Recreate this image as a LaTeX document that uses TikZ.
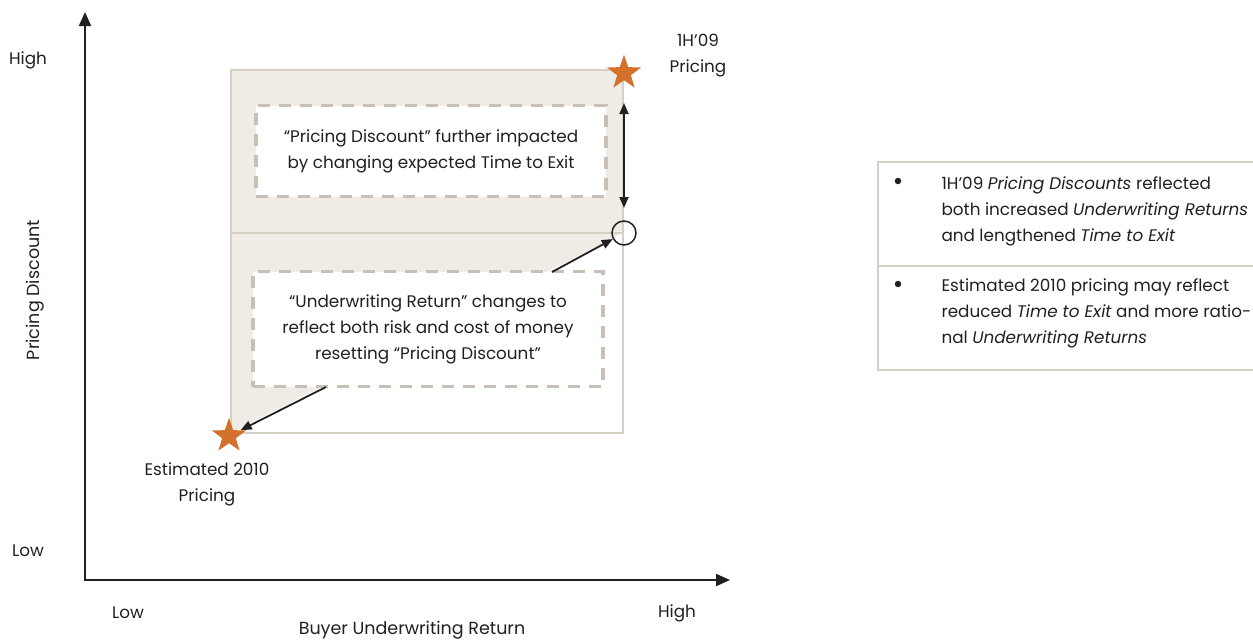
\documentclass[tikz,border=0pt]{standalone}
\usepackage{fontspec}
\setmainfont{Poppins}
\usetikzlibrary{arrows.meta,shapes.geometric}

\definecolor{beige}{HTML}{EFECE6}
\definecolor{frameline}{HTML}{D6CFC3}
\definecolor{dashline}{HTML}{C8C0B7}
\definecolor{starorange}{HTML}{D2702C}
\definecolor{ink}{HTML}{231F20}

\begin{document}
\begin{tikzpicture}[x=1pt,y=-1pt,text=ink,font=\fontsize{16.8}{26}\selectfont]
  \useasboundingbox (0,0) rectangle (1253,640);

  \tikzset{axis arc/.style={{Triangle[length=14,width=12]}-{Triangle[length=14,width=12]}, ink, line width=2},
           thin arc/.style={-{Triangle[length=11,width=9]}, ink, line width=1.8},
           dashbox/.style={draw=dashline, fill=white, line width=3.5, dash pattern=on 12pt off 9pt, align=center, inner sep=0pt},
           starnode/.style={star, star points=5, star point ratio=2.5, fill=starorange, minimum size=36, inner sep=0pt},
           dot/.style={circle, fill=ink, minimum size=6.5, inner sep=0pt}}

  % shaded region
  \fill[beige] (231,70) rectangle (623,233);
  \fill[beige] (231,233) -- (623,233) -- (231,433) -- cycle;
  \draw[frameline, line width=1.5] (231,70) rectangle (623,433);
  \draw[frameline, line width=1.5] (231,233) -- (623,233);

  % axes
  \coordinate (ytip) at (85,12);
  \coordinate (origin) at (85,580);
  \coordinate (xtip) at (730,580);
  \draw[axis arc] (ytip) -- (origin) -- (xtip);

  \node (yhigh) at (28,60) {High};
  \node (ylow) at (28,551) {Low};
  \node (xlow) at (128,613) {Low};
  \node (xhigh) at (677,613) {High};
  \node[rotate=90, font=\fontsize{17.5}{20}\selectfont] (ytitle) at (35,290) {Pricing Discount};
  \node[font=\fontsize{17.5}{20}\selectfont] (xtitle) at (412,630) {Buyer Underwriting Return};

  % boxes
  \node[dashbox, minimum width=350, minimum height=91] (discbox) at (431,151)
    {“Pricing Discount” further impacted\\by changing expected Time to Exit};
  \node[dashbox, minimum width=350, minimum height=115] (retbox) at (428,329)
    {“Underwriting Return” changes to\\reflect both risk and cost of money\\resetting “Pricing Discount”};

  \node[starnode] (starhigh) at (624,73) {};
  \node[starnode] (starlow) at (229,436) {};
  \node[circle, draw=ink, line width=1.5, minimum size=24, inner sep=0pt] (ring) at (624,233) {};

  \node[align=center] (highlabel) at (698,56) {1H’09\\Pricing};
  \node[align=center] (lowlabel) at (207,484) {Estimated 2010\\Pricing};

  \coordinate (gaptop) at (624,103);
  \coordinate (gapbot) at (624,208);
  \coordinate (retstart) at (552,272);
  \coordinate (lowstart) at (326,387);
  \draw[thin arc, {Triangle[length=11,width=9]}-{Triangle[length=11,width=9]}] (gaptop) -- (gapbot);
  \draw[thin arc] (retstart) -- (ring);
  \draw[thin arc] (lowstart) -- (starlow);

  % legend
  \draw[frameline, line width=2] (1253,162) -- (878,162) -- (878,370) -- (1253,370);
  \draw[frameline, line width=2] (878,266) -- (1253,266);
  \node[dot] (bulletone) at (898,181) {};
  \node[dot] (bullettwo) at (898,284) {};
  \node[anchor=west, align=left] (itemone) at (938,211)
    {1H’09 \textit{Pricing Discounts} reflected\\both increased \textit{Underwriting Returns}\\and lengthened \textit{Time to Exit}};
  \node[anchor=west, align=left] (itemtwo) at (938,313)
    {Estimated 2010 pricing may reflect\\reduced \textit{Time to Exit} and more ratio-\\nal \textit{Underwriting Returns}};
\end{tikzpicture}
\end{document}
